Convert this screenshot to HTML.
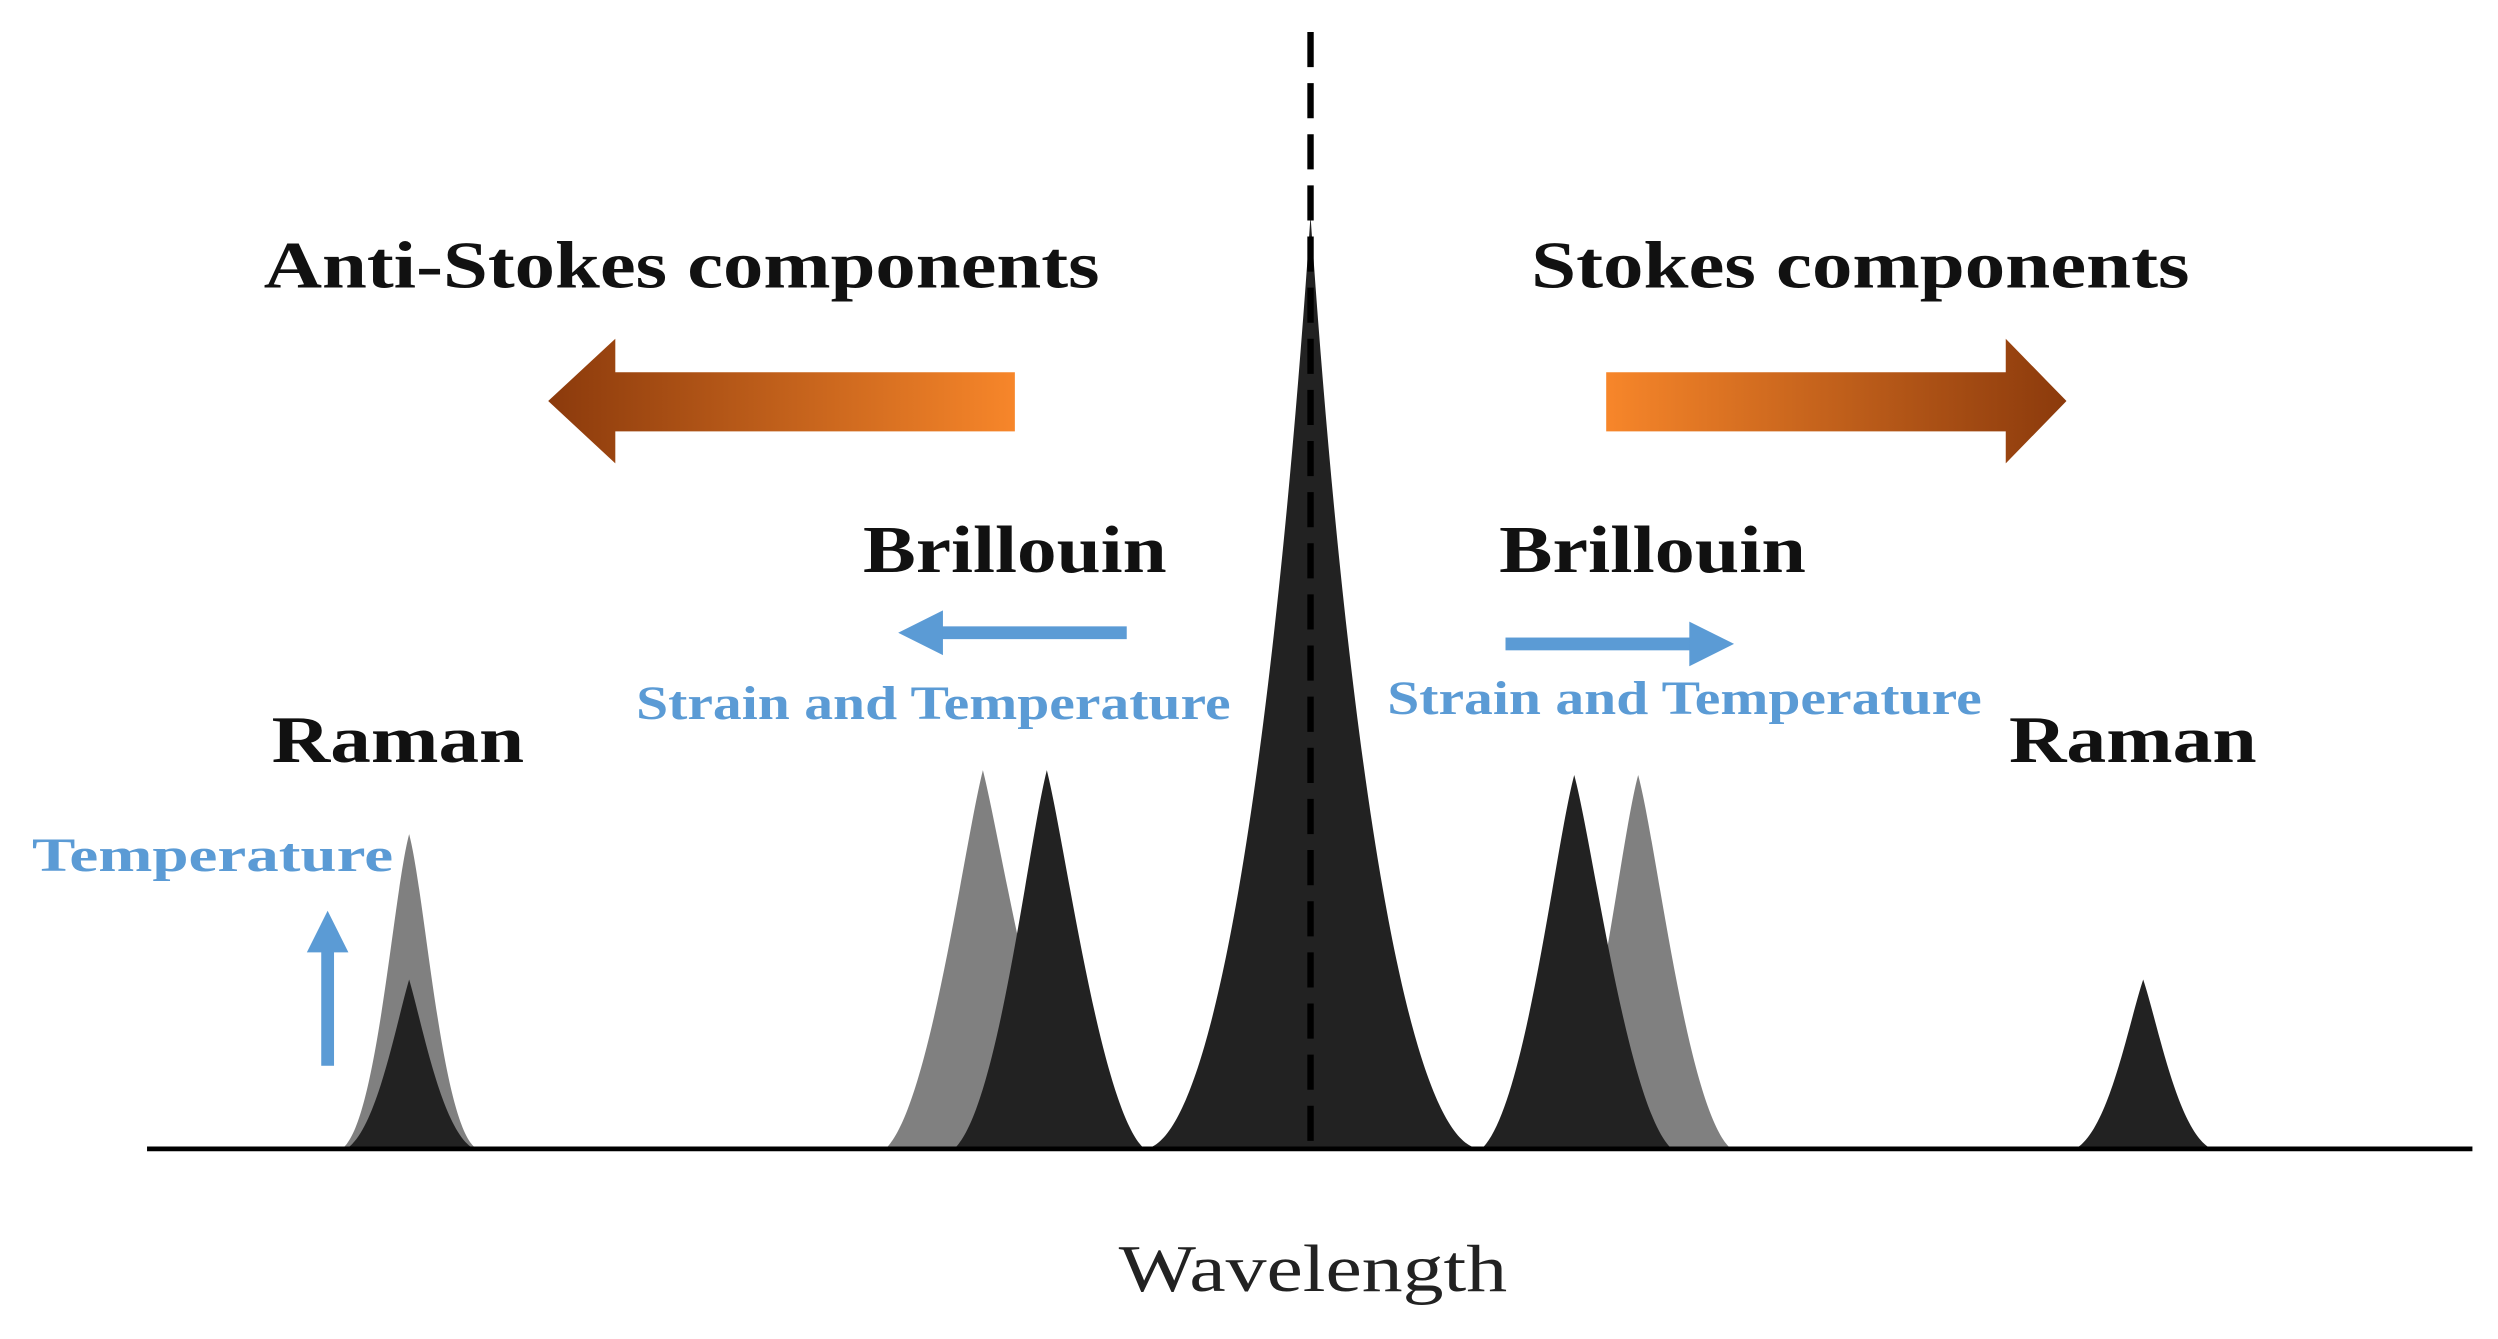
<!DOCTYPE html>
<html><head><meta charset="utf-8"><style>html,body{margin:0;padding:0;background:#fff}svg{display:block}</style></head>
<body>
<svg width="2498" height="1339" viewBox="0 0 1563 838" preserveAspectRatio="none" xmlns="http://www.w3.org/2000/svg">
<defs>
<linearGradient id="gl" x1="0" x2="1" y1="0" y2="0"><stop offset="0" stop-color="#8b3a0c"/><stop offset="1" stop-color="#f7862a"/></linearGradient>
<linearGradient id="gr" x1="0" x2="1" y1="0" y2="0"><stop offset="0" stop-color="#f7862a"/><stop offset="1" stop-color="#8b3a0c"/></linearGradient>
</defs>
<rect width="1563" height="838" fill="#fff"/>
<path d="M215,718 C236,700 246,560 256,522 C266,560 276,700 297,718 Z" fill="#808080"/>
<path d="M218,718 C236,705 248,640 256,613 C264,640 276,705 295,718 Z" fill="#222"/>
<path d="M555,718 C582,690 603,530 615,482 C627,530 652,690 680,718 Z" fill="#808080"/>
<path d="M598,718 C625,690 643,530 655,482 C667,530 688,690 715,718 Z" fill="#222"/>
<path d="M970,718 C997,690 1013,530 1025,485 C1037,530 1055,690 1082,718 Z" fill="#808080"/>
<path d="M928,718 C955,690 973,530 985,485 C997,530 1018,690 1045,718 Z" fill="#222"/>
<path d="M1300,718 C1320,705 1332,640 1341,613 C1350,640 1362,705 1382,718 Z" fill="#222"/>
<path d="M720,718 C765,700 800,430 820,135 C840,430 875,700 922,718 Z" fill="#222"/>
<line x1="820" y1="20" x2="820" y2="718" stroke="#000" stroke-width="4" stroke-dasharray="22,10"/>
<line x1="92" y1="719" x2="1547" y2="719" stroke="#000" stroke-width="3"/>
<path d="M635,233 L385,233 L385,212 L343,251 L385,290 L385,270 L635,270 Z" fill="url(#gl)"/>
<path d="M1005,233 L1255,233 L1255,212 L1293,251 L1255,290 L1255,270 L1005,270 Z" fill="url(#gr)"/>
<g fill="#5b9bd5" stroke="none">
<rect x="585" y="392" width="120" height="8"/><path d="M562,396 L590,382 L590,410 Z"/>
<rect x="942" y="399" width="120" height="8"/><path d="M1085,403 L1057,389 L1057,417 Z"/>
<rect x="201" y="592" width="8" height="75"/><path d="M205,570 L192,596 L218,596 Z"/>
</g>
<g font-family="'Liberation Serif',serif" font-weight="bold" fill="#111" font-size="42">
<text x="165" y="180" textLength="523" lengthAdjust="spacingAndGlyphs">Anti-Stokes components</text>
<text x="958" y="180" textLength="412" lengthAdjust="spacingAndGlyphs">Stokes components</text>
<text x="540" y="358" textLength="190" lengthAdjust="spacingAndGlyphs">Brillouin</text>
<text x="938" y="358" textLength="192" lengthAdjust="spacingAndGlyphs">Brillouin</text>
<text x="170" y="477" textLength="158" lengthAdjust="spacingAndGlyphs">Raman</text>
<text x="1257" y="477" textLength="155" lengthAdjust="spacingAndGlyphs">Raman</text>
</g>
<g font-family="'Liberation Serif',serif" font-weight="bold" fill="#5b9bd5" font-size="30">
<text x="398" y="450" textLength="372" lengthAdjust="spacingAndGlyphs">Strain and Temperature</text>
<text x="868" y="447" textLength="372" lengthAdjust="spacingAndGlyphs">Strain and Temperature</text>
<text x="20" y="545" textLength="226" lengthAdjust="spacingAndGlyphs">Temperature</text>
</g>
<text x="700" y="808" font-family="'Liberation Serif',serif" font-size="42" fill="#222" textLength="243" lengthAdjust="spacingAndGlyphs">Wavelength</text>
</svg>
</body></html>
